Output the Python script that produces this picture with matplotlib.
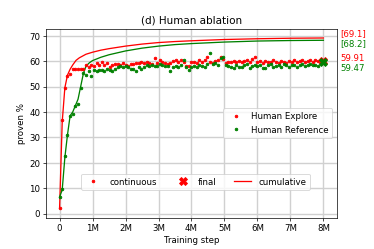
import numpy as np
import matplotlib
matplotlib.use("Agg")
import matplotlib.pyplot as plt
from matplotlib.lines import Line2D

# ---- data ----
step_m = [round(0.08 * i, 2) for i in range(101)]  # training step in millions

explore_cont = [2, 36.8, 49.4, 54, 55, 57, 57, 57, 57, 56.8,
                58.3, 57.5, 58.5, 58, 59.3, 58.3, 59.5, 58.6, 59.2, 57.5,
                58.4, 58.8, 59, 58.5, 59.2, 58.6, 58.2, 59, 58.8, 59.3,
                59.1, 59.5, 59.3, 59.6, 59.3, 59, 61.4, 59.2, 60.3, 59.5,
                59.2, 58.8, 59.2, 60, 60.3, 59.8, 60.5, 59.5, 58.2, 58,
                59.8, 59.5, 59.2, 60.3, 59.5, 60.5, 61.6, 59.8, 59.4, 60,
                60.3, 61.7, 60.8, 59.3, 59.8, 59.5, 60, 59.5, 60.2, 59.8,
                60.2, 60.5, 59.8, 61, 61.8, 59.5, 60, 59.3, 60.2, 59.8,
                59.5, 60.3, 59.8, 59.4, 60, 59.6, 59.2, 60, 59.5, 60.4,
                59.8, 60.2, 60.5, 59.6, 60, 60.3, 59.7, 60.5, 60, 60.6, 60]

reference_cont = [6.6, 9.5, 22.5, 31, 38.5, 39, 42.5, 43, 49.3, 55.5,
                  54.5, 56, 54.3, 56.5, 56.3, 56.5, 56.5, 56.2, 56.8, 56.5,
                  56.3, 57, 57.5, 58, 57.8, 58, 57.5, 56.8, 57, 56.2,
                  57.5, 57, 57.5, 58.3, 58, 58.5, 58.2, 58, 59, 58.3,
                  58, 58.2, 56.2, 57.5, 58, 57.8, 58.5, 60.5, 57.5, 56.5,
                  57.8, 58, 57.5, 58.6, 58.2, 57.5, 58.8, 63, 59, 59.2,
                  58.5, 61.3, 61.5, 58.6, 58, 57.6, 57.2, 58.5, 57.8, 57.5,
                  58.3, 58.8, 57.4, 58.2, 58.6, 58.2, 58.5, 57.4, 57.2, 58.5,
                  58.8, 57.6, 58.2, 58.5, 57.8, 59, 58.5, 57.5, 58.6, 58.4,
                  57.7, 58.5, 58.8, 57.9, 58.6, 59, 58.3, 58.6, 58.2, 59.2, 59.5]

explore_cum_x = [0, 0.08, 0.16, 0.24, 0.32, 0.4, 0.5, 0.6, 0.8, 1.0, 1.25, 1.5,
                 2, 2.5, 3, 3.5, 4, 5, 6, 7, 8]
explore_cum = [2, 36, 49.5, 54.5, 56.8, 58.5, 60.3, 61.3, 62.7, 63.5, 64.3, 64.9,
               65.9, 66.7, 67.3, 67.7, 68.0, 68.5, 68.8, 69.0, 69.1]

reference_cum_x = [0, 0.08, 0.16, 0.24, 0.32, 0.4, 0.48, 0.56, 0.64, 0.72, 0.8, 0.9,
                   1.0, 1.25, 1.5, 2, 2.5, 3, 3.5, 4, 5, 6, 7, 8]
reference_cum = [6.5, 9.3, 22, 31, 38.5, 40, 42.5, 45, 50, 55, 58, 59.3,
                 60.2, 61.5, 62.5, 64, 65.1, 65.9, 66.5, 66.9, 67.5, 67.9, 68.1, 68.2]

final_step_m = 8
explore_final = 59.91
reference_final = 59.47

series_names = ["Human Explore", "Human Reference"]
colors = ["red", "green"]
xtick_labels = ["0", "1M", "2M", "3M", "4M", "5M", "6M", "7M", "8M"]

# ---- plot ----
fig = plt.figure(figsize=(6, 4), dpi=374 / 6)
ax = fig.add_axes([0.124, 0.126, 0.776, 0.758])

conts = [explore_cont, reference_cont]
cum_xs = [explore_cum_x, reference_cum_x]
cums = [explore_cum, reference_cum]
finals = [explore_final, reference_final]

x = np.array(step_m) * 1e6
for name, c, cont, cx, cy in zip(series_names, colors, conts, cum_xs, cums):
    ax.plot(np.array(cx) * 1e6, cy, color=c, lw=1.5)
for name, c, cont in zip(series_names, colors, conts):
    ax.plot(x, cont, '.', color=c, label=name)
for c, f in zip(colors, finals):
    ax.plot([final_step_m * 1e6], [f], 'X', color=c, ms=10)

ax.set_xlim(-0.4e6, 8.4e6)
ax.set_ylim(-1.6, 72.8)
ax.set_xticks(np.arange(0, 9) * 1e6)
ax.set_xticklabels(xtick_labels)
ax.grid(True, color='#d0d0d0', lw=1.6)
ax.set_axisbelow(True)
ax.set_xlabel("Training step")
ax.set_ylabel("proven %")
ax.set_title("(d) Human ablation")

# right-side annotations
trans = ax.get_yaxis_transform()
ax.text(1.014, 71.1, "[69.1]", color="red", transform=trans, va="center", ha="left")
ax.text(1.014, 67.2, "[68.2]", color="green", transform=trans, va="center", ha="left")
ax.text(1.014, 61.3, f"{explore_final:.2f}", color="red", transform=trans, va="center", ha="left")
ax.text(1.014, 57.3, f"{reference_final:.2f}", color="green", transform=trans, va="center", ha="left")

leg1 = ax.legend(loc="center right")
ax.add_artist(leg1)
handles = [Line2D([], [], ls='', marker='.', color='red'),
           Line2D([], [], ls='', marker='X', ms=10, color='red'),
           Line2D([], [], color='red', lw=1.5)]
ax.legend(handles, ["continuous", "final", "cumulative"], ncol=3,
          loc="center", bbox_to_anchor=(0.514, 0.19))

fig.savefig("out.png", dpi=374 / 6)
